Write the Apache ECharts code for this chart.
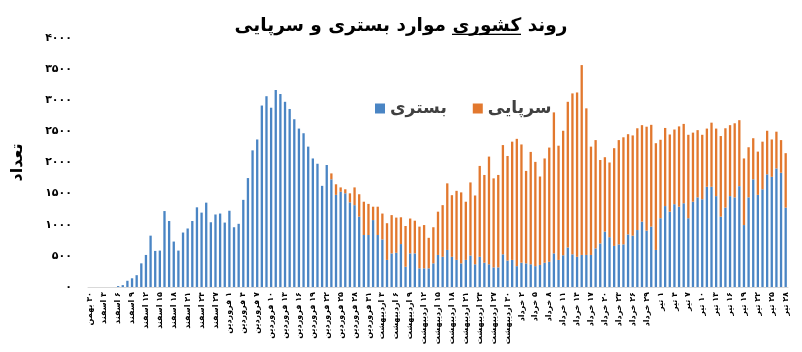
<!DOCTYPE html>
<html>
<head>
<meta charset="utf-8">
<title>روند کشوری موارد بستری و سرپایی</title>
<script src="https://cdn.jsdelivr.net/npm/echarts@6/dist/echarts.min.js"></script>
<style>
  html, body { margin: 0; padding: 0; background: #fff; }
  #chart { width: 802px; height: 352px; }
</style>
</head>
<body>
<div id="chart"></div>
<script>
// months shown on the x axis: [name, first day, last day]
const months = [
  ['بهمن', 30, 30],
  ['اسفند', 1, 29],
  ['فروردین', 1, 31],
  ['اردیبهشت', 1, 31],
  ['خرداد', 1, 31],
  ['تیر', 1, 28]
]

// بستری (inpatient) per day
const bastari = [
  0, 0, 0, 0, 0, 0, 15, 30, 100, 140,
  190, 380, 515, 825, 580, 585, 1220, 1060, 730, 585,
  875, 940, 1060, 1280, 1195, 1355, 1040, 1165, 1180, 1035,
  1225, 960, 1015, 1400, 1750, 2195, 2370, 2915, 3065, 2880,
  3165, 3100, 2975, 2860, 2695, 2545, 2470, 2255, 2065, 1980,
  1625, 1960, 1730, 1480, 1530, 1505, 1360, 1315, 1130, 835,
  835, 1075, 835, 765, 435, 540, 550, 690, 325, 540,
  540, 300, 300, 300, 380, 515, 485, 595, 485, 435,
  380, 435, 505, 365, 485, 390, 365, 315, 315, 525,
  425, 435, 335, 390, 380, 365, 335, 355, 390, 405,
  540, 435, 510, 635, 525, 485, 515, 515, 515, 620,
  700, 890, 800, 660, 685, 685, 845, 825, 915, 1050,
  905, 970, 595, 1105, 1300, 1210, 1330, 1290, 1345, 1105,
  1370, 1440, 1410, 1610, 1610, 1460, 1130, 1275, 1460, 1440,
  1620, 995, 1440, 1730, 1480, 1570, 1810, 1770, 1905, 1835,
  1275
]

// سرپایی (outpatient) per day, stacked on top
const sarpaei = [
  0, 0, 0, 0, 0, 0, 0, 0, 0, 0,
  0, 0, 0, 0, 0, 0, 0, 0, 0, 0,
  0, 0, 0, 0, 0, 0, 0, 0, 0, 0,
  0, 0, 0, 0, 0, 0, 0, 0, 0, 0,
  0, 0, 0, 0, 0, 0, 0, 0, 0, 0,
  0, 0, 95, 170, 70, 65, 145, 285, 360, 535,
  500, 215, 455, 415, 590, 615, 565, 430, 655, 560,
  525, 670, 695, 490, 580, 695, 830, 1070, 990, 1110,
  1140, 935, 1175, 1105, 1460, 1410, 1730, 1430, 1485, 1755,
  1680, 1900, 2045, 1900, 1485, 1805, 1675, 1420, 1675, 1835,
  2265, 1835, 2000, 2340, 2585, 2640, 3050, 2355, 1740, 1740,
  1340, 1195, 1200, 1570, 1675, 1720, 1610, 1610, 1635, 1550,
  1670, 1635, 1715, 1260, 1255, 1240, 1200, 1290, 1275, 1340,
  1110, 1080, 1035, 935, 1030, 1085, 1295, 1275, 1140, 1190,
  1060, 1070, 805, 660, 695, 765, 700, 600, 590, 525,
  875
]

const yTicks = [0, 500, 1000, 1500, 2000, 2500, 3000, 3500, 4000]

const fontFamily = '"DejaVu Sans", sans-serif'

// latin digits -> persian digits
function fa (n) {
  return String(n).replace(/[0-9]/g, d => '۰۱۲۳۴۵۶۷۸۹'[d])
}

const categories = []
months.forEach(([name, from, to]) => {
  for (let d = from; d <= to; d++) categories.push(fa(d) + ' ' + name)
})

// small canvas with a line at the bottom, stretched behind «کشوری» as an underline
const underline = document.createElement('canvas')
underline.width = 4
underline.height = 30
const uctx = underline.getContext('2d')
uctx.fillStyle = '#000'
uctx.fillRect(0, 27, 4, 2)

const titleStyle = { fontFamily, fontWeight: 'bold', fontSize: 18.5, color: '#000', lineHeight: 30 }

const chart = echarts.init(document.getElementById('chart'))

const option = {
  animation: false,
  title: {
    // tokens are in visual (left to right) order
    text: '{a|موارد بستری و سرپایی} {u|کشوری} {a|روند}',
    left: 'center',
    top: 6,
    textStyle: {
      ...titleStyle,
      rich: {
        a: { ...titleStyle },
        u: { ...titleStyle, backgroundColor: { image: underline } }
      }
    }
  },
  legend: {
    left: 370,
    top: 95,
    itemWidth: 10,
    itemHeight: 10,
    itemGap: 26,
    icon: 'rect',
    textStyle: { fontFamily, fontWeight: 'bold', fontSize: 17, color: '#404040' },
    data: ['بستری', 'سرپایی']
  },
  grid: { left: 88, right: 14, top: 38, bottom: 65 },
  xAxis: {
    type: 'category',
    data: categories,
    axisLine: { lineStyle: { color: '#d9d9d9' } },
    axisTick: { interval: 0, length: 3, lineStyle: { color: '#d9d9d9' } },
    axisLabel: {
      interval: 2,
      rotate: 90,
      margin: 5,
      fontFamily,
      fontWeight: 'bold',
      fontSize: 8,
      color: '#000',
      formatter: v => '\u200F' + v
    }
  },
  yAxis: {
    type: 'value',
    min: yTicks[0],
    max: yTicks[yTicks.length - 1],
    interval: yTicks[1] - yTicks[0],
    name: 'تعداد',
    nameLocation: 'middle',
    nameGap: 62,
    nameTextStyle: { fontFamily, fontWeight: 'bold', fontSize: 16, color: '#000' },
    splitLine: { show: false },
    axisLine: { show: false },
    axisTick: { show: false },
    axisLabel: {
      margin: 16,
      fontFamily,
      fontWeight: 'bold',
      fontSize: 11,
      color: '#000',
      formatter: v => fa(v)
    }
  },
  series: [
    {
      name: 'بستری',
      type: 'bar',
      stack: 'total',
      barWidth: '50%',
      itemStyle: { color: '#4a85c4' },
      data: bastari
    },
    {
      name: 'سرپایی',
      type: 'bar',
      stack: 'total',
      barWidth: '50%',
      itemStyle: { color: '#e2782e' },
      data: sarpaei
    }
  ]
}

chart.setOption(option)
</script>
</body>
</html>
